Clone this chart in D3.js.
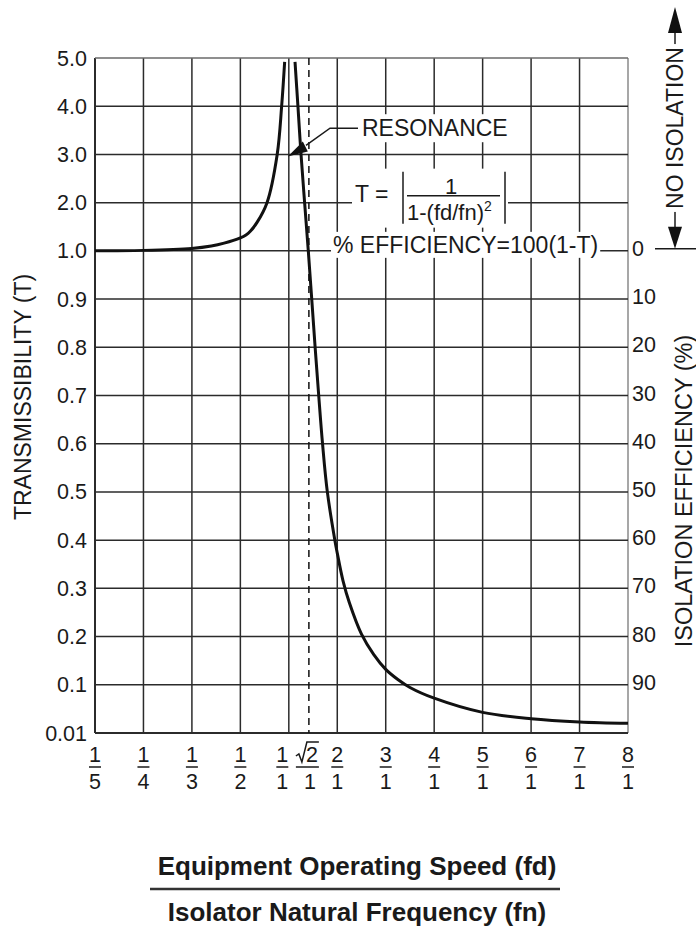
<!DOCTYPE html>
<html>
<head>
<meta charset="utf-8">
<script src="https://cdn.jsdelivr.net/npm/d3@7"></script>
<style>
  body { margin: 0; background: #fff; }
  text { font-family: "Liberation Sans", Arial, sans-serif; fill: #1a1a1a; }
</style>
</head>
<body>
<svg id="chart" width="696" height="928"></svg>
<script>
// x axis: frequency ratio fd/fn, drawn as fractions
var xTicks = [0.2, 0.25, 1 / 3, 0.5, 1, 2, 3, 4, 5, 6, 7, 8]
var xNum = ["1", "1", "1", "1", "1", "2", "3", "4", "5", "6", "7", "8"]
var xDen = ["5", "4", "3", "2", "1", "1", "1", "1", "1", "1", "1", "1"]
var resonance = Math.SQRT2

// y axis: transmissibility, uneven steps on an even grid
var yTicks = [0.01, 0.1, 0.2, 0.3, 0.4, 0.5, 0.6, 0.7, 0.8, 0.9, 1, 2, 3, 4, 5]
var yLabels = ["0.01", "0.1", "0.2", "0.3", "0.4", "0.5", "0.6", "0.7", "0.8", "0.9", "1.0", "2.0", "3.0", "4.0", "5.0"]
var effTicks = [0, 10, 20, 30, 40, 50, 60, 70, 80, 90]

// curve, below and above resonance
var lowRatio = [0.2, 0.25, 0.333, 0.4, 0.444, 0.5, 0.558, 0.6, 0.672, 0.775, 0.88, 0.926, 0.957]
var lowT = [1.0, 1.01, 1.05, 1.1, 1.16, 1.27, 1.33, 1.4, 1.59, 2.0, 3.0, 4.0, 4.92]
var highRatio = [1.128, 1.188, 1.252, 1.326, 1.402, 1.473, 1.543, 1.617, 1.696, 1.795, 1.95, 2.0, 2.12, 2.25, 2.5, 2.75, 3.0, 3.25, 3.5, 4, 5, 6, 7, 8]
var highT = [4.92, 4.0, 3.0, 2.0, 1.0, 0.9, 0.8, 0.7, 0.6, 0.5, 0.4, 0.373, 0.315, 0.27, 0.205, 0.163, 0.132, 0.111, 0.095, 0.075, 0.0485, 0.0367, 0.0307, 0.0281]

var svg = d3.select("#chart")
var pLeft = 95, pRight = 628, pTop = 58, pBottom = 733
var grid = "#2b2b2b"

var xIdx = d3.scalePoint().domain(d3.range(xTicks.length)).range([pLeft, pRight])
var x = d3.scaleLinear().domain(xTicks).range(xTicks.map((d, i) => xIdx(i)))
var yIdx = d3.scalePoint().domain(d3.range(yTicks.length)).range([pBottom, pTop])
var y = d3.scaleLinear().domain(yTicks).range(yTicks.map((d, i) => yIdx(i)))

// grid
var g = svg.append("g")
g.selectAll(".vgrid").data(xTicks).enter().append("line")
  .attr("x1", d => x(d)).attr("x2", d => x(d))
  .attr("y1", pTop).attr("y2", pBottom)
  .attr("stroke", (d, i) => i == xTicks.length - 1 ? "#8a8a8a" : grid)
  .attr("stroke-width", (d, i) => i == 0 ? 2 : 1.5)
g.selectAll(".hgrid").data(yTicks).enter().append("line")
  .attr("x1", pLeft).attr("x2", pRight)
  .attr("y1", d => y(d)).attr("y2", d => y(d))
  .attr("stroke", (d, i) => i == yTicks.length - 1 ? "#6a6a6a" : grid)
  .attr("stroke-width", (d, i) => i == 0 ? 2 : 1.5)

// sqrt(2) dashed line
g.append("line")
  .attr("x1", x(resonance)).attr("x2", x(resonance))
  .attr("y1", pTop).attr("y2", pBottom)
  .attr("stroke", "#111").attr("stroke-width", 1.5)
  .attr("stroke-dasharray", "7,5")

// curve
var line = d3.line().x(d => x(d[0])).y(d => y(d[1])).curve(d3.curveCatmullRom.alpha(0.5))
svg.append("path").datum(d3.zip(lowRatio, lowT))
  .attr("d", line).attr("fill", "none").attr("stroke", "#111").attr("stroke-width", 3)
svg.append("path").datum(d3.zip(highRatio, highT))
  .attr("d", line).attr("fill", "none").attr("stroke", "#111").attr("stroke-width", 3)

// left tick labels
svg.selectAll(".ylab").data(yTicks).enter().append("text")
  .attr("x", 87).attr("y", d => y(d) + 7.5)
  .attr("text-anchor", "end").attr("font-size", 21.5)
  .text((d, i) => yLabels[i])

// right efficiency labels
svg.selectAll(".elab").data(effTicks).enter().append("text")
  .attr("x", 632).attr("y", d => y(1 - d / 100) + 5)
  .attr("font-size", 21.5)
  .text(d => d)

// x fraction labels
var fx = d => x(d) + (d == 1 ? -6.5 : 0)
var xl = svg.append("g")
xl.selectAll(".num").data(xTicks).enter().append("text")
  .attr("x", fx).attr("y", 762).attr("text-anchor", "middle").attr("font-size", 21.5)
  .text((d, i) => xNum[i])
xl.selectAll(".bar").data(xTicks).enter().append("line")
  .attr("x1", d => fx(d) - 6).attr("x2", d => fx(d) + 6)
  .attr("y1", 767).attr("y2", 767).attr("stroke", "#1a1a1a").attr("stroke-width", 1.5)
xl.selectAll(".den").data(xTicks).enter().append("text")
  .attr("x", fx).attr("y", 789).attr("text-anchor", "middle").attr("font-size", 21.5)
  .text((d, i) => xDen[i])
// sqrt(2)/1
var rx = x(resonance) + 1
xl.append("text").attr("x", rx + 2).attr("y", 762).attr("text-anchor", "middle").attr("font-size", 21.5).text("2")
xl.append("path")
  .attr("d", `M${rx - 14},756 L${rx - 11},754 L${rx - 8},762 L${rx - 3},742 L${rx + 9},742`)
  .attr("fill", "none").attr("stroke", "#1a1a1a").attr("stroke-width", 1.5)
xl.append("line").attr("x1", rx - 14).attr("x2", rx + 9).attr("y1", 767).attr("y2", 767)
  .attr("stroke", "#1a1a1a").attr("stroke-width", 1.5)
xl.append("text").attr("x", rx).attr("y", 789).attr("text-anchor", "middle").attr("font-size", 21.5).text("1")

function whiteBack(sel, px, py) {
  var b = sel.node().getBBox()
  sel.insert("rect", ":first-child")
    .attr("x", b.x - px).attr("y", b.y - py)
    .attr("width", b.width + 2 * px).attr("height", b.height + 2 * py)
    .attr("fill", "#fff")
}

// resonance note
var tip = [x(1) - 1, y(3) + 2]
var rn = svg.append("g")
rn.append("text").attr("x", 362).attr("y", y(4) + 30).attr("font-size", 23).text("RESONANCE")
whiteBack(rn, 2, 1)
svg.append("polyline")
  .attr("points", [[358, y(4) + 22], [330, y(4) + 22], [306, tip[1] - 11]].join(" "))
  .attr("fill", "none").attr("stroke", "#1a1a1a").attr("stroke-width", 1.5)
svg.append("polygon")
  .attr("points", [tip, [tip[0] + 15, tip[1] - 15], [tip[0] + 20, tip[1] - 5]].join(" "))
  .attr("fill", "#111")

// formula
var fy = y(2)
var fm = svg.append("g")
fm.append("text").attr("x", 355).attr("y", fy - 1).attr("font-size", 23).text("T =")
fm.append("line").attr("x1", 403).attr("x2", 403).attr("y1", fy - 31).attr("y2", fy + 21)
  .attr("stroke", "#1a1a1a").attr("stroke-width", 1.5)
fm.append("line").attr("x1", 505).attr("x2", 505).attr("y1", fy - 31).attr("y2", fy + 21)
  .attr("stroke", "#1a1a1a").attr("stroke-width", 1.5)
fm.append("text").attr("x", 451).attr("y", fy - 9).attr("text-anchor", "middle").attr("font-size", 22).text("1")
fm.append("line").attr("x1", 407).attr("x2", 500).attr("y1", fy - 7).attr("y2", fy - 7)
  .attr("stroke", "#1a1a1a").attr("stroke-width", 1.5)
var den = fm.append("text").attr("x", 407).attr("y", fy + 17).attr("font-size", 22)
den.append("tspan").text("1-(fd/fn)")
den.append("tspan").attr("font-size", 14).attr("dy", -9).text("2")
whiteBack(fm, 3, 3)

// efficiency formula
var ef = svg.append("g")
ef.append("text").attr("x", 333).attr("y", y(1) + 2).attr("font-size", 23).text("% EFFICIENCY=100(1-T)")
whiteBack(ef, 2, 0)

// no isolation marker
var ax = 675
svg.append("line").attr("x1", ax).attr("x2", ax).attr("y1", 20).attr("y2", y(1) - 14)
  .attr("stroke", "#1a1a1a").attr("stroke-width", 1.5)
svg.append("polygon").attr("points", [[ax, 7], [ax - 7, 33], [ax + 7, 33]].join(" ")).attr("fill", "#111")
svg.append("polygon").attr("points", [[ax, y(1) - 2], [ax - 7, y(1) - 24], [ax + 7, y(1) - 24]].join(" ")).attr("fill", "#111")
svg.append("line").attr("x1", 655).attr("x2", 696).attr("y1", y(1) - 2).attr("y2", y(1) - 2)
  .attr("stroke", "#1a1a1a").attr("stroke-width", 1.5)
var ni = svg.append("g").attr("transform", `translate(${ax + 8},128) rotate(-90)`)
ni.append("text").attr("text-anchor", "middle").attr("font-size", 23).text("NO ISOLATION")
whiteBack(ni, 3, 0)

// axis titles
svg.append("text").attr("transform", "translate(31,397) rotate(-90)")
  .attr("text-anchor", "middle").attr("font-size", 23).text("TRANSMISSIBILITY (T)")
svg.append("text").attr("transform", "translate(692,491) rotate(-90)")
  .attr("text-anchor", "middle").attr("font-size", 23.5).text("ISOLATION EFFICIENCY (%)")

svg.append("text").attr("x", 357).attr("y", 875).attr("text-anchor", "middle")
  .attr("font-size", 26).attr("font-weight", "bold").text("Equipment Operating Speed (fd)")
svg.append("line").attr("x1", 150).attr("x2", 560).attr("y1", 889).attr("y2", 889)
  .attr("stroke", "#333").attr("stroke-width", 2.5)
svg.append("text").attr("x", 357).attr("y", 921).attr("text-anchor", "middle")
  .attr("font-size", 26).attr("font-weight", "bold").text("Isolator Natural Frequency (fn)")
</script>
</body>
</html>
